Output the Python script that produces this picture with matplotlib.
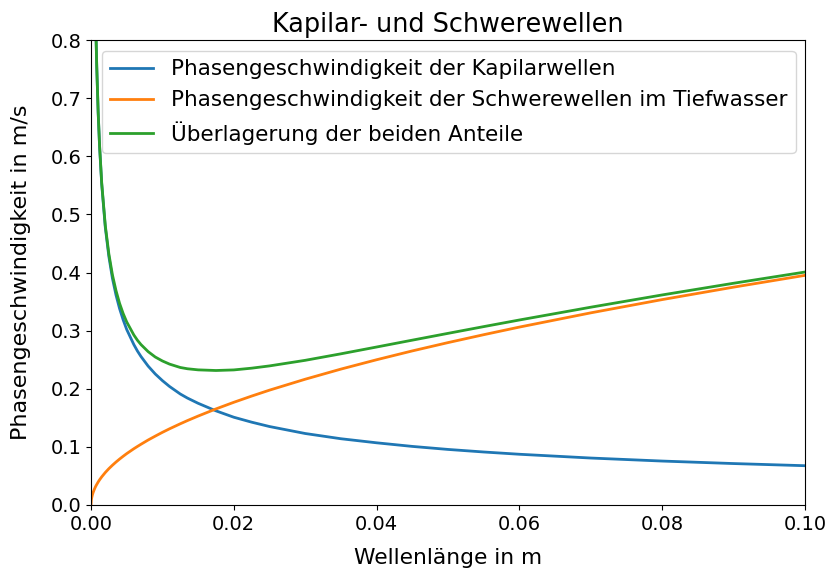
import matplotlib
matplotlib.use("Agg")
import matplotlib.pyplot as plt

# values (wavelength in m, speed in m/s)
wellenlaenge = [0.0, 0.00005, 0.0001, 0.0002, 0.0003,
                0.0005, 0.0006, 0.0007, 0.0008, 0.001,
                0.0012, 0.0015, 0.002, 0.0025, 0.003,
                0.0035, 0.004, 0.0045, 0.005, 0.006,
                0.0065, 0.007, 0.008, 0.009, 0.01,
                0.011, 0.0125, 0.0135, 0.015, 0.0175,
                0.02, 0.0225, 0.025, 0.03, 0.035,
                0.04, 0.045, 0.05, 0.055, 0.06,
                0.07, 0.08, 0.09, 0.1]
kapillar = [None, None, None, None, None,
            0.956, 0.8728, 0.808, 0.7559, 0.676,
            0.6172, 0.552, 0.478, 0.4276, 0.390,
            0.3614, 0.338, 0.3187, 0.302, 0.2760,
            0.265, 0.2555, 0.239, 0.2254, 0.214,
            0.2039, 0.191, 0.1840, 0.175, 0.162,
            0.151, 0.1425, 0.135, 0.123, 0.114,
            0.107, 0.1008, 0.0956, 0.0912, 0.0873,
            0.0808, 0.0756, 0.0713, 0.0676]
schwere = [0.0, 0.0088, 0.0125, 0.0177, 0.0216,
           0.0279, 0.0306, 0.0331, 0.0353, 0.0395,
           0.0433, 0.0484, 0.0559, 0.0625, 0.0684,
           0.0739, 0.0790, 0.0838, 0.0884, 0.0968,
           0.1007, 0.1045, 0.1118, 0.1185, 0.1250,
           0.1311, 0.1397, 0.1452, 0.1530, 0.1653,
           0.1767, 0.1874, 0.1976, 0.2164, 0.2338,
           0.2499, 0.2651, 0.2794, 0.2930, 0.3061,
           0.3306, 0.3534, 0.3748, 0.3951]
summe = [None, None, None, None, None,
         0.956, 0.8733, 0.809, 0.7567, 0.677,
         0.6187, 0.554, 0.481, 0.4321, 0.396,
         0.3689, 0.347, 0.3295, 0.315, 0.2925,
         0.2835, 0.2760, 0.2639, 0.2546, 0.2478,
         0.2424, 0.2366, 0.2344, 0.2325, 0.2314,
         0.2324, 0.2354, 0.2393, 0.2489, 0.2601,
         0.2718, 0.2836, 0.2953, 0.3069, 0.3183,
         0.3403, 0.3614, 0.3815, 0.4008]

def clean(xs, ys):
    pts = [(x, y) for x, y in zip(xs, ys) if y is not None]
    return [p[0] for p in pts], [p[1] for p in pts]

plt.rcParams['font.size'] = 14
plt.rcParams['xtick.labelsize'] = 14
plt.rcParams['ytick.labelsize'] = 14

fig, ax = plt.subplots(figsize=(8.3, 5.72), dpi=100)
fig.subplots_adjust(left=91/830, right=805/830, top=1-40/572, bottom=1-505/572)

x, y = clean(wellenlaenge, kapillar)
ax.plot(x, y, color='#1f77b4', linewidth=2, label='Phasengeschwindigkeit der Kapilarwellen')
x, y = clean(wellenlaenge, schwere)
ax.plot(x, y, color='#ff7f0e', linewidth=2, label='Phasengeschwindigkeit der Schwerewellen im Tiefwasser')
x, y = clean(wellenlaenge, summe)
ax.plot(x, y, color='#2ca02c', linewidth=2, label='Überlagerung der beiden Anteile')

ax.set_xlim(0, 0.1)
ax.set_ylim(0, 0.8)
ax.set_xticks([0.0, 0.02, 0.04, 0.06, 0.08, 0.10])
ax.set_xticklabels(['0.00', '0.02', '0.04', '0.06', '0.08', '0.10'])
ax.set_title('Kapilar- und Schwerewellen', fontsize=18.4)
ax.set_xlabel('Wellenlänge in m', fontsize=15.7, labelpad=10)
ax.set_ylabel('Phasengeschwindigkeit in m/s', fontsize=16, labelpad=14)
ax.legend(loc='upper left', fontsize=15.5)

fig.savefig('out.png', dpi=100)
